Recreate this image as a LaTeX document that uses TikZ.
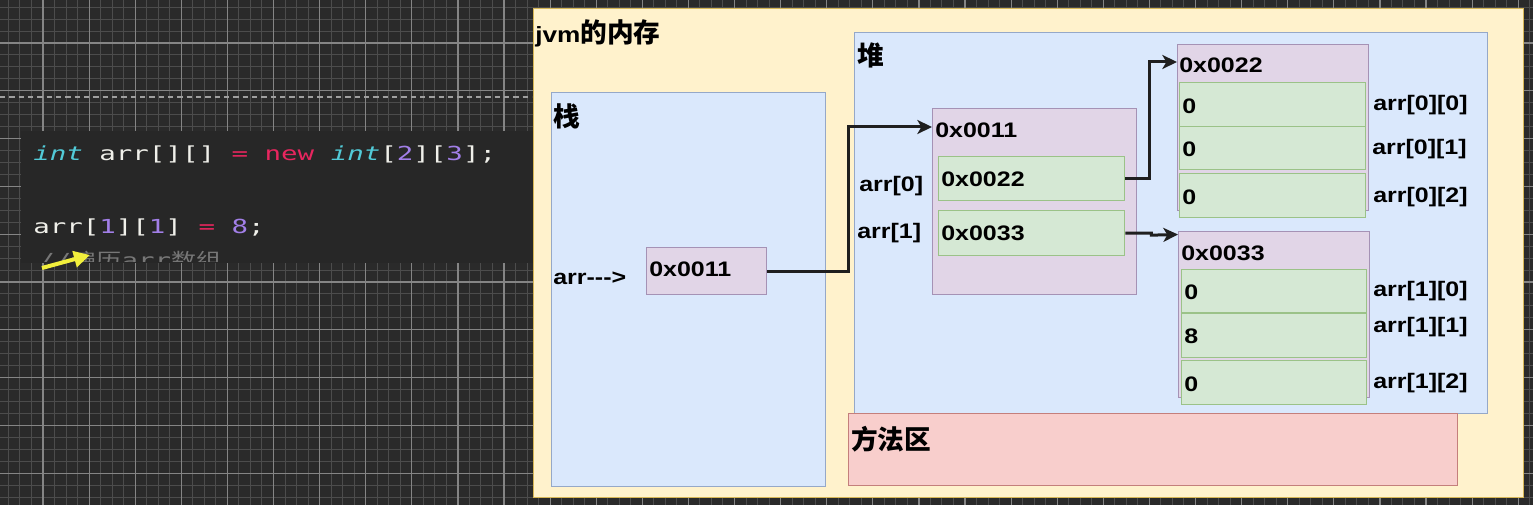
\documentclass[tikz,border=0pt]{standalone}
\usepackage{fontspec}
\setmainfont{Liberation Sans}[FakeStretch=1.19]
\newfontfamily\cjk{Noto Sans CJK SC}
\newfontfamily\codefont{DejaVu Sans Mono}[FakeStretch=1.42]
\newfontfamily\cjkcode{Noto Sans CJK SC}[FakeStretch=1.3]
\usetikzlibrary{arrows.meta}
\definecolor{bgdark}{HTML}{2A2A2A}
\definecolor{gminorc}{HTML}{4C4C4C}
\definecolor{gmajorc}{HTML}{858585}
\definecolor{codebg}{HTML}{272727}
\definecolor{cyanc}{HTML}{52CBD8}
\definecolor{pinkc}{HTML}{E8265F}
\definecolor{purplec}{HTML}{A27FE8}
\definecolor{whitec}{HTML}{F0F0EA}
\definecolor{commentc}{HTML}{777777}
\definecolor{yelfill}{HTML}{FFF2CC}
\definecolor{yeldraw}{HTML}{D6B656}
\definecolor{bluefill}{HTML}{DAE8FC}
\definecolor{bluedraw}{HTML}{95A8C8}
\definecolor{purfill}{HTML}{E1D5E7}
\definecolor{purdraw}{HTML}{A592B5}
\definecolor{grnfill}{HTML}{D5E8D4}
\definecolor{grndraw}{HTML}{9BC288}
\definecolor{redfill}{HTML}{F8CECC}
\definecolor{reddraw}{HTML}{C47F7C}
\definecolor{arrowc}{HTML}{1F1F1F}
\definecolor{hiyellow}{HTML}{F2EF3C}
\tikzset{
  box/.style={anchor=north west, inner sep=0pt, line width=1pt},
  wh/.style 2 args={minimum width=#1*0.75pt, minimum height=#2*0.75pt},
  yelbox/.style={box, fill=yelfill, draw=yeldraw},
  bluebox/.style={box, fill=bluefill, draw=bluedraw},
  purbox/.style={box, fill=purfill, draw=purdraw},
  grnbox/.style={box, fill=grnfill, draw=grndraw},
  redbox/.style={box, fill=redfill, draw=reddraw},
  lbl/.style={anchor=west, inner sep=0pt, text height=11.3pt, text depth=0pt,
    font=\bfseries\fontsize{15.75pt}{18pt}\selectfont},
  clbl/.style={anchor=west, inner sep=0pt, text height=15.2pt, text depth=0pt,
    font=\cjk\bfseries\fontsize{20pt}{24pt}\selectfont},
  code/.style={anchor=base west, inner sep=0pt, font=\codefont\fontsize{14.5pt}{17pt}\selectfont},
  conn/.style={draw=arrowc, line width=2.25pt, -{Stealth[length=11pt,width=10.5pt,inset=3pt]}},
  gminor/.style={draw=gminorc, line width=0.75pt},
  gmajor/.style={draw=gmajorc, line width=0.9pt},
}
\begin{document}
\begin{tikzpicture}[x=0.75pt,y=-0.75pt]
\useasboundingbox (0,0) rectangle (1533,505);
% background grid
\fill[bgdark] (0,0) rectangle (1533,505);
\foreach \i in {-4,...,129} \draw[gminor] ({43+\i*11.525},0) -- ({43+\i*11.525},505);
\foreach \j in {-4,...,39} \draw[gminor] (0,{43+\j*11.95}) -- (1533,{43+\j*11.95});
\foreach \i in {-1,...,32} \draw[gmajor] ({43+\i*46.1},0) -- ({43+\i*46.1},505);
\foreach \j in {-1,...,9} \draw[gmajor] (0,{43+\j*47.8}) -- (1533,{43+\j*47.8});
\draw[draw=gray!75, line width=1pt, dash pattern=on 4pt off 3pt] (0,97) -- (532,97);

% code snippet
\node[box, fill=codebg, wh={512}{132}] (codebox) at (20,130) {};
\node[code] (l1) at (33,161) {\textcolor{cyanc}{\itshape int} \textcolor{whitec}{arr[][]} \textcolor{pinkc}{=} \textcolor{pinkc}{new} \textcolor{cyanc}{\itshape int}\textcolor{whitec}{[}\textcolor{purplec}{2}\textcolor{whitec}{][}\textcolor{purplec}{3}\textcolor{whitec}{];}};
\node[code] (l2) at (33,234) {\textcolor{whitec}{arr[}\textcolor{purplec}{1}\textcolor{whitec}{][}\textcolor{purplec}{1}\textcolor{whitec}{]} \textcolor{pinkc}{=} \textcolor{purplec}{8}\textcolor{whitec}{;}};
\begin{scope}
  \clip (20,130) rectangle (532,262);
  \node[code, text=commentc] (cmt) at (38,268) {//{\cjkcode 遍历}arr{\cjkcode 数组}};
\end{scope}
\coordinate (ya) at (42,268);
\coordinate (yb) at (90,255);
\draw[line width=3pt, hiyellow, -{Triangle[length=12pt,width=12pt]}] (ya) -- (yb);

% jvm memory
\node[yelbox, wh={990}{489}] (jvm) at (533,8) {};
\node[clbl] (jvmlbl) at (535,32) {{\rmfamily\fontsize{16.5pt}{18pt}\selectfont jvm}的内存};

% stack
\node[bluebox, wh={274}{394}] (stack) at (551,92) {};
\node[clbl] (stacklbl) at (553,116) {栈};
\node[lbl] (arrlbl) at (553,276.5) {arr-{}-{}->};
\node[purbox, wh={120}{47}] (ref) at (646,247) {};
\node[lbl] (reftxt) at ([xshift=2.25pt,yshift=1.5pt]ref.west) {0x0011};

% heap
\node[bluebox, wh={633}{381}] (heap) at (854,32) {};
\node[clbl] (heaplbl) at (857,55) {堆};

% method area
\node[redbox, wh={609}{72}] (method) at (848,413) {};
\node[clbl] (methodlbl) at (851,439) {方法区};

% outer array
\node[purbox, wh={204}{186}] (outer) at (932,108) {};
\node[lbl] (outerlbl) at (935,130) {0x0011};
\node[grnbox, wh={186}{44}] (c22) at (938,156) {};
\node[lbl] (c22txt) at ([xshift=2.25pt]c22.west) {0x0022};
\node[grnbox, wh={186}{45}] (c33) at (938,210) {};
\node[lbl] (c33txt) at ([xshift=2.25pt]c33.west) {0x0033};
\node[lbl] (a0lbl) at (859,184) {arr[0]};
\node[lbl] (a1lbl) at (857,230.5) {arr[1]};

% array 0x0022
\node[purbox, wh={191}{166}] (arrA) at (1177,44) {};
\node[lbl] (arrAlbl) at (1179,65) {0x0022};
\node[grnbox, wh={186}{44}] (a00) at (1179,82) {};
\node[grnbox, wh={186}{43}] (a01) at (1179,126) {};
\node[grnbox, wh={186}{44}] (a02) at (1179,173) {};
\node[lbl] (a00t) at ([xshift=2.25pt,yshift=-0.75pt]a00.west) {0};
\node[lbl] (a01t) at ([xshift=2.25pt,yshift=-0.75pt]a01.west) {0};
\node[lbl] (a02t) at ([xshift=2.25pt,yshift=-0.75pt]a02.west) {0};
\node[lbl] (n00) at (1373,103) {arr[0][0]};
\node[lbl] (n01) at (1372,147) {arr[0][1]};
\node[lbl] (n02) at (1373,195) {arr[0][2]};

% array 0x0033
\node[purbox, wh={191}{166}] (arrB) at (1178,231) {};
\node[lbl] (arrBlbl) at (1181,252.5) {0x0033};
\node[grnbox, wh={185}{43}] (b10) at (1181,269) {};
\node[grnbox, wh={185}{44}] (b11) at (1181,313) {};
\node[grnbox, wh={185}{44}] (b12) at (1181,360) {};
\node[lbl] (b10t) at ([xshift=2.25pt,yshift=-0.75pt]b10.west) {0};
\node[lbl] (b11t) at ([xshift=2.25pt]b11.west) {8};
\node[lbl] (b12t) at ([xshift=2.25pt,yshift=-0.75pt]b12.west) {0};
\node[lbl] (n10) at (1373,289) {arr[1][0]};
\node[lbl] (n11) at (1373,325) {arr[1][1]};
\node[lbl] (n12) at (1373,381) {arr[1][2]};

% connectors
\coordinate (j1) at (848,200);
\coordinate (oin) at (932,127);
\draw[conn] (ref.east) -| (j1) |- (oin);
\coordinate (j2) at (1149,120);
\coordinate (ain) at (1177,62);
\draw[conn] (c22.east) -| (j2) |- (ain);
\coordinate (bin) at (1178,234.5);
\draw[conn] (c33.east) -- ++(26,0) -- ++(0,2) -- (bin);
\end{tikzpicture}
\end{document}
